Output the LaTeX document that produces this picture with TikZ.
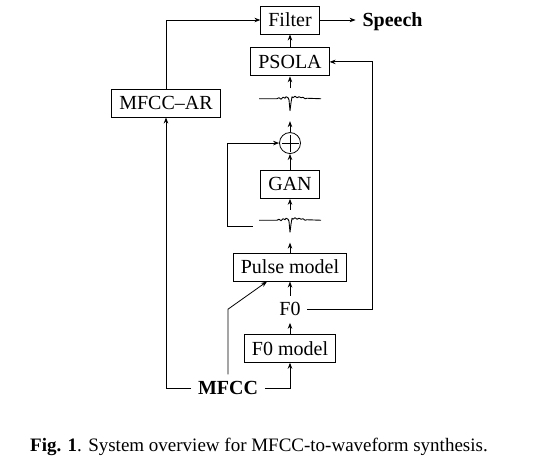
\documentclass[tikz,border=0pt]{standalone}
\usepackage{fontspec}
\setmainfont{Liberation Serif}
\usetikzlibrary{arrows.meta,positioning}

\tikzset{
  block/.style={draw, line width=0.9pt, inner xsep=7.5pt, inner ysep=0pt, minimum height=28pt},
  sig/.style={inner sep=6.5pt},
  wavebox/.style={minimum width=62pt, minimum height=32pt, inner sep=0pt},
  sumnode/.style={circle, draw, line width=0.8pt, minimum size=21pt, inner sep=0pt,
    path picture={
      \draw[line width=0.8pt] ([xshift=2pt]path picture bounding box.west) -- ([xshift=-2pt]path picture bounding box.east);
      \draw[line width=0.8pt] ([yshift=-2pt]path picture bounding box.north) -- ([yshift=2pt]path picture bounding box.south);}},
}
\newcommand{\pulsewave}[1]{%
  \draw[line width=0.9pt, line join=round, shift={(#1.center)}] plot coordinates {
    (-31,-6) (-13,-6) (-11,-7) (-9,-5.5) (-7,-7.5) (-5,-6.5) (-4,-8) (-2,-7) (-1,-5)
    (0,6) (1,-2) (2,-8) (3,-7) (5,-8.5) (7,-7) (9,-8) (11,-7) (13,-7.5) (15,-6) (17,-6.5) (31,-6)};}

\begin{document}
\begin{tikzpicture}[x=1pt, y=-1pt, >={Stealth[length=6pt,width=4.5pt]}, line width=0.8pt,
  every node/.style={font=\fontsize{20}{24}\selectfont}]
\useasboundingbox (0,0) rectangle (542,470);

\node[block] (filter) at (290,20) {Filter};
\node[sig, mid right=36pt of filter] (speech) {\textbf{Speech}};
\node[block, below=13pt of filter] (psola) {PSOLA};
\node[wavebox, below=12pt of psola] (w1) {};
\node[sumnode, below=11pt of w1] (plus) {};
\node[block, below=16pt of plus] (gan) {GAN};
\node[wavebox, below=11pt of gan] (w2) {};
\node[block, below=10pt of w2] (pulse) {Pulse model};
\node[sig, below=14pt of pulse] (f0) {F0};
\node[block, below=11pt of f0] (f0model) {F0 model};
\node[sig] (mfcc) at (228,388) {\textbf{MFCC}};
\node[block] (mfccar) at (166,103) {MFCC--AR};
\node[font=\fontsize{19}{23}\selectfont] (caption) at (259,447)
  {\textbf{Fig. 1}. System overview for MFCC-to-waveform synthesis.};

\pulsewave{w1}
\pulsewave{w2}

\coordinate[right=43pt of psola.east] (fr);
\coordinate[left=31pt of w2.west] (fb);

\draw[->] (mfccar.north) |- (filter.west);
\draw[->] (filter.east) -- (filter.east -| speech.west);
\draw[->] (psola) -- (filter);
\draw[->] (w1) -- (psola);
\draw[->] (plus) -- (w1);
\draw[->] (gan) -- (plus);
\draw[->] (w2) -- (gan);
\draw[->] (pulse) -- (w2);
\draw[->] (f0) -- (pulse);
\draw[->] (f0model) -- (f0);
\draw[->] ([xshift=-6pt]w2.west) -- (fb) |- (plus.west);
\draw[->] (f0.east) -| (fr) -- (psola.east);
\draw[->] (mfcc.east) -| (f0model.south);
\draw[->] (mfcc.west) -| (mfccar.south);
\draw[->] (mfcc.north) -- (mfcc.north |- f0.center) -- ([xshift=-23pt]pulse.south);
\end{tikzpicture}
\end{document}
